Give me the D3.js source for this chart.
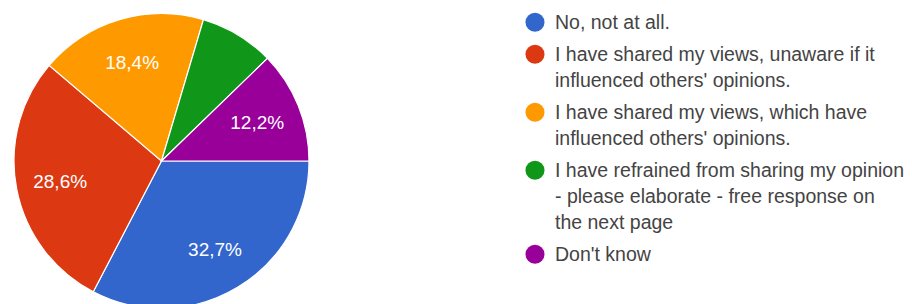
<!DOCTYPE html>
<html>
<head>
<meta charset="utf-8">
<script src="https://cdn.jsdelivr.net/npm/d3@7"></script>
<style>
  html, body { margin: 0; padding: 0; background: #fff; }
  svg { display: block; font-family: "Liberation Sans", Arial, sans-serif; }
</style>
</head>
<body>
<div id="chart"></div>
<script>
// answer categories (legend lines, wrapped as in the original)
const categories = [
    ["No, not at all."],
    ["I have shared my views, unaware if it", "influenced others' opinions."],
    ["I have shared my views, which have", "influenced others' opinions."],
    ["I have refrained from sharing my opinion", "- please elaborate - free response on", "the next page"],
    ["Don't know"]
];
// number of responses per answer (49 total)
const counts = [16, 14, 9, 4, 6];
const colors = ["#3366cc", "#dc3912", "#ff9900", "#109618", "#990099"];

const width = 912, height = 304;
const cx = 161.5, cy = 161, radius = 147.5;

const svg = d3.select("#chart")
    .append("svg")
    .attr("width", width)
    .attr("height", height);

const total = d3.sum(counts);
const data = counts.map((c, i) => ({ value: c, color: colors[i], lines: categories[i] }));

// slices start at 3 o'clock and go clockwise
const pie = d3.pie()
    .value(d => d.value)
    .sort(null)
    .startAngle(Math.PI / 2)
    .endAngle(Math.PI / 2 + 2 * Math.PI);

const arc = d3.arc().innerRadius(0).outerRadius(radius);
const labelArc = d3.arc().innerRadius(radius * 0.7).outerRadius(radius * 0.7);

const g = svg.append("g").attr("transform", `translate(${cx},${cy})`);
const arcs = pie(data);

g.selectAll("path")
    .data(arcs)
    .join("path")
    .attr("d", arc)
    .attr("fill", d => d.data.color)
    .attr("stroke", "#fff")
    .attr("stroke-width", 1.2);

const fmt = v => (v * 100).toFixed(1).replace(".", ",") + "%";

g.selectAll("text")
    .data(arcs.filter(d => d.data.value / total >= 0.1))
    .join("text")
    .attr("transform", d => `translate(${labelArc.centroid(d)})`)
    .attr("text-anchor", "middle")
    .attr("dy", "0.36em")
    .attr("fill", "#fff")
    .attr("font-size", "19px")
    .text(d => fmt(d.data.value / total));

// legend
const lineH = 26, gap = 6;
let y = 22.3;
const legend = svg.append("g");
data.forEach(d => {
    legend.append("circle")
        .attr("cx", 535)
        .attr("cy", y)
        .attr("r", 9.5)
        .attr("fill", d.color);
    const t = legend.append("text")
        .attr("x", 555)
        .attr("y", y + 7)
        .attr("fill", "#444")
        .attr("font-size", "19.5px");
    d.lines.forEach((line, j) => {
        t.append("tspan")
            .attr("x", 555)
            .attr("dy", j === 0 ? 0 : lineH)
            .text(line);
    });
    y += d.lines.length * lineH + gap;
});
</script>
</body>
</html>
